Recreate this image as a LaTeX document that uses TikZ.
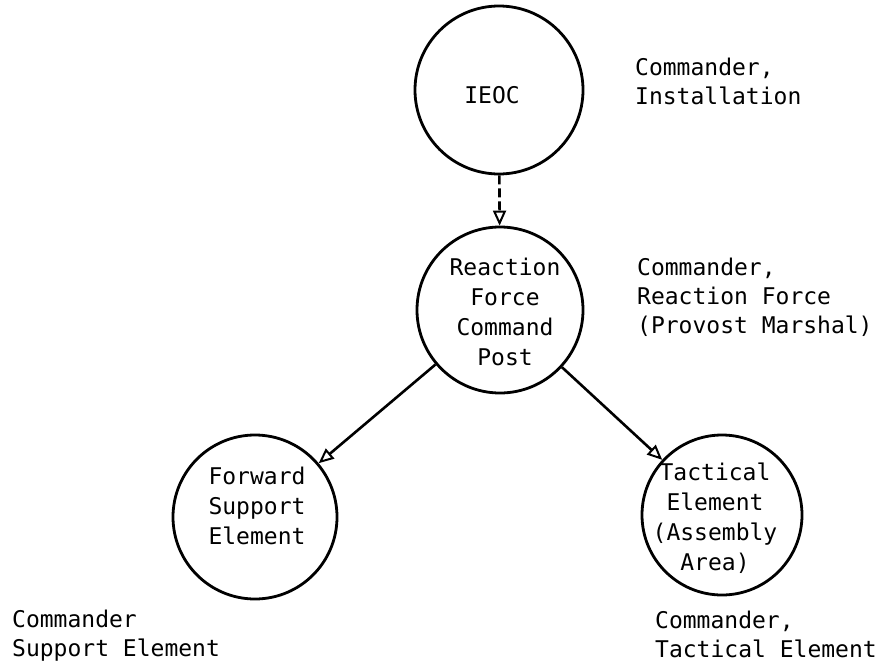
\documentclass[tikz,border=0pt]{standalone}
\usepackage{fontspec}
\setmonofont{DejaVu Sans Mono}
\usetikzlibrary{arrows.meta}
\tikzset{
  unit/.style={circle, draw=black, line width=2.8pt, inner sep=0pt},
  utext/.style={align=center, inner sep=0pt,
    font=\ttfamily\fontsize{23}{30}\selectfont},
  lbl/.style={anchor=north west, align=left, inner sep=0pt,
    font=\ttfamily\fontsize{23}{29}\selectfont},
  link/.style={line width=2.6pt, -{Triangle[open, length=15pt, width=13pt, fill=white, line width=2pt]}},
}
\begin{document}
\begin{tikzpicture}[x=1pt,y=1pt]
\useasboundingbox[fill=white] (0,0) rectangle (886,-664);
\node[unit, minimum size=168pt] (ieoc) at (499,-90) {};
\node[unit, minimum size=166pt] (rfcp) at (500,-310) {};
\node[unit, minimum size=164pt] (fse) at (255,-517) {};
\node[unit, minimum size=160pt] (te) at (722,-515) {};
\node[utext] (t1) at (492,-95) {IEOC};
\node[utext] (t2) at (505,-312) {Reaction\\Force\\Command\\Post};
\node[utext] (t3) at (257,-506) {Forward\\Support\\Element};
\node[utext] (t4) at (715,-518) {Tactical\\Element\\(Assembly\\Area)};
\node[lbl] (l1) at (635,-57.5) {Commander,\\Installation};
\node[lbl] (l2) at (637,-257.5) {Commander,\\Reaction Force\\(Provost Marshal)};
\node[lbl] (l3) at (12,-609.5) {Commander\\Support Element};
\node[lbl] (l4) at (655,-610.5) {Commander,\\Tactical Element};
\draw[link, dash pattern=on 9pt off 4pt] (ieoc) -- (rfcp);
\draw[link] (rfcp) -- (fse);
\draw[link] (rfcp) -- (te);
\end{tikzpicture}
\end{document}
